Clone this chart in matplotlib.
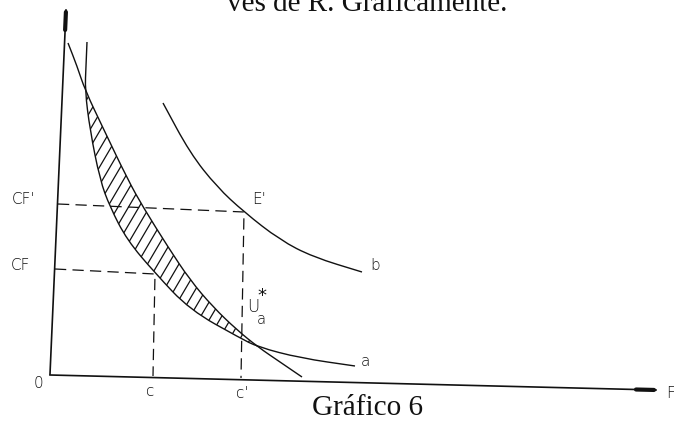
import numpy as np
import matplotlib
matplotlib.use('Agg')
import matplotlib.pyplot as plt
from matplotlib.path import Path
from matplotlib.patches import PathPatch

y_axis_x = [50, 66]
y_axis_y = [374, 10]
x_axis_x = [50, 656]
x_axis_y = [375, 390]

# curve a (flatter one, lower edge of the shaded band)
curve_a_x = [87, 86, 85, 90, 100, 110, 127, 155, 190, 240, 258, 300, 355]
curve_a_y = [42, 66, 90, 130, 180, 207, 240, 273, 310, 338, 347, 358, 366]

# steeper curve (upper edge of the shaded band)
curve_s_x = [68, 77, 85, 104, 128, 143, 168, 190, 213, 237, 258, 280, 302]
curve_s_y = [43, 66, 90, 130, 180, 207, 247, 280, 307, 330, 347, 362, 377]

# curve b
curve_b_x = [163, 190, 217, 244, 280, 313, 362]
curve_b_y = [103, 153, 187, 212, 240, 257, 272]

# dashed guides: CF' -> E' -> c' and CF -> c
cf1_x = [58, 244, 241]
cf1_y = [204, 212, 378]
cf_x = [55, 155, 153]
cf_y = [269, 274, 376]

labels = ["CF'", "CF", "0", "c", "c'", "E'", "b", "a", "F"]
label_x = [24, 20, 38, 150, 242, 259, 375, 365, 671]
label_y = [199, 266, 384, 392, 393, 200, 265, 362, 393]

band_from, band_to = 2, 10   # crossing point .. tangency point


def smooth(xs, ys, first=True):
    # quadratic bezier through the midpoints, read points act as controls
    p = np.column_stack([xs, ys]).astype(float)
    verts = [p[0]] if first else []
    codes = [Path.MOVETO] if first else []
    if len(p) > 2:
        verts.append((p[0] + p[1]) / 2)
        codes.append(Path.LINETO)
        for i in range(1, len(p) - 1):
            verts += [p[i], (p[i] + p[i + 1]) / 2]
            codes += [Path.CURVE3, Path.CURVE3]
    verts.append(p[-1])
    codes.append(Path.LINETO)
    return verts, codes


fig = plt.figure(figsize=(6.74, 4.24), dpi=100)
ax = fig.add_axes([0, 0, 1, 1])
ax.set_xlim(0, 674)
ax.set_ylim(424, 0)
ax.axis('off')

ink = '#111111'

# axes with their heavy arrow tips
ax.plot(y_axis_x, y_axis_y, color=ink, lw=1.2)
ax.plot(x_axis_x, x_axis_y, color=ink, lw=1.2)
for xs, ys in [(y_axis_x, y_axis_y), (x_axis_x, x_axis_y)]:
    d = np.array([xs[1] - xs[0], ys[1] - ys[0]], float)
    d /= np.hypot(*d)
    tip = np.array([xs[1], ys[1]], float)
    back = tip - 20 * d
    ax.plot([back[0], tip[0] - 2 * d[0]], [back[1], tip[1] - 2 * d[1]],
            color=ink, lw=3.0, solid_capstyle='round')

# shaded band between the two curves
va, ca = smooth(curve_a_x[band_from:band_to + 1], curve_a_y[band_from:band_to + 1])
vs, cs = smooth(curve_s_x[band_from:band_to + 1][::-1], curve_s_y[band_from:band_to + 1][::-1],
                first=False)
cs[0] = Path.LINETO
band = PathPatch(Path(va + vs + [va[0]], ca + cs + [Path.CLOSEPOLY]),
                 fill=False, lw=0)
ax.add_patch(band)
slope = 1.7
for x0 in np.arange(-300, 500, 10.5):
    ln, = ax.plot([x0, x0 + 400 / slope], [400, 0], color=ink, lw=0.9)
    ln.set_clip_path(band)

for xs, ys in [(curve_a_x, curve_a_y), (curve_s_x, curve_s_y), (curve_b_x, curve_b_y)]:
    v, c = smooth(xs, ys)
    ax.add_patch(PathPatch(Path(v, c), fill=False, edgecolor=ink, lw=1.0))

ax.plot(cf1_x, cf1_y, color=ink, lw=0.9, dashes=(9, 5))
ax.plot(cf_x, cf_y, color=ink, lw=0.9, dashes=(9, 5))

for s, x, y in zip(labels, label_x, label_y):
    ax.text(x, y, s, ha='center', va='center', fontsize=11,
            family='DejaVu Sans', fontweight='light', color=ink)

# U*_a at the tangency
ax.text(253, 307, 'U', ha='center', va='center', fontsize=12,
        family='DejaVu Sans', fontweight='light', color=ink)
ax.text(261, 319, 'a', ha='center', va='center', fontsize=10.5,
        family='DejaVu Sans', fontweight='light', color=ink)
ax.text(262, 296, '*', ha='center', va='center', fontsize=13,
        family='DejaVu Sans', color=ink)

ax.text(368, 415, 'Gráfico 6', ha='center', va='baseline', fontsize=21,
        family='Liberation Serif', color=ink)
# end of the previous text line, cut by the top of the scan
ax.text(507, 11, 'vés de R. Gráficamente.', ha='right', va='baseline',
        fontsize=21, family='Liberation Serif', color=ink)

fig.savefig('out.png', dpi=100)
